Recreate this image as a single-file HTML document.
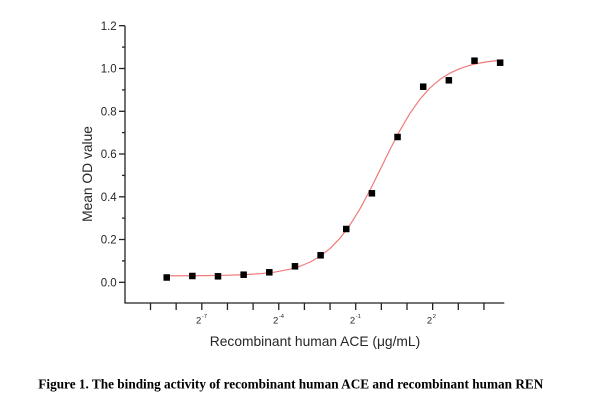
<!DOCTYPE html>
<html>
<head>
<meta charset="utf-8">
<style>
  html, body { margin: 0; padding: 0; background: #fff; }
  svg { display: block; }
  .tl { font-family: "Liberation Sans", Arial, sans-serif; fill: #262626; }
</style>
</head>
<body>
<svg width="612" height="414" viewBox="0 0 612 414" xmlns="http://www.w3.org/2000/svg">
  <rect width="612" height="414" fill="#fff"/>

  <!-- axes -->
  <g stroke="#222" stroke-width="1.3" fill="none">
    <line x1="125" y1="25.7" x2="125" y2="303.3"/>
    <line x1="124.4" y1="303" x2="504.3" y2="303"/>
    <!-- y major ticks -->
    <line x1="119" y1="25.7" x2="125" y2="25.7"/>
    <line x1="119" y1="68.5" x2="125" y2="68.5"/>
    <line x1="119" y1="111.3" x2="125" y2="111.3"/>
    <line x1="119" y1="154" x2="125" y2="154"/>
    <line x1="119" y1="196.8" x2="125" y2="196.8"/>
    <line x1="119" y1="239.5" x2="125" y2="239.5"/>
    <line x1="119" y1="282.3" x2="125" y2="282.3"/>
    <!-- y minor ticks -->
    <line x1="122" y1="47.1" x2="125" y2="47.1"/>
    <line x1="122" y1="89.9" x2="125" y2="89.9"/>
    <line x1="122" y1="132.6" x2="125" y2="132.6"/>
    <line x1="122" y1="175.4" x2="125" y2="175.4"/>
    <line x1="122" y1="218.1" x2="125" y2="218.1"/>
    <line x1="122" y1="260.9" x2="125" y2="260.9"/>
    <!-- x ticks -->
    <line x1="150.5" y1="303" x2="150.5" y2="310"/>
    <line x1="176.15" y1="303" x2="176.15" y2="310"/>
    <line x1="201.8" y1="303" x2="201.8" y2="310"/>
    <line x1="227.45" y1="303" x2="227.45" y2="310"/>
    <line x1="253.1" y1="303" x2="253.1" y2="310"/>
    <line x1="278.75" y1="303" x2="278.75" y2="310"/>
    <line x1="304.4" y1="303" x2="304.4" y2="310"/>
    <line x1="330.05" y1="303" x2="330.05" y2="310"/>
    <line x1="355.7" y1="303" x2="355.7" y2="310"/>
    <line x1="381.35" y1="303" x2="381.35" y2="310"/>
    <line x1="407" y1="303" x2="407" y2="310"/>
    <line x1="432.65" y1="303" x2="432.65" y2="310"/>
    <line x1="458.3" y1="303" x2="458.3" y2="310"/>
    <line x1="483.95" y1="303" x2="483.95" y2="310"/>
  </g>

  <!-- y tick labels -->
  <g class="tl" font-size="11.5" text-anchor="end">
    <text x="116.7" y="29.8">1.2</text>
    <text x="116.7" y="72.6">1.0</text>
    <text x="116.7" y="115.4">0.8</text>
    <text x="116.7" y="158.1">0.6</text>
    <text x="116.7" y="200.9">0.4</text>
    <text x="116.7" y="243.6">0.2</text>
    <text x="116.7" y="286.4">0.0</text>
  </g>

  <!-- x tick labels -->
  <g class="tl">
    <text x="201.3" y="323.3" font-size="9.5" text-anchor="end">2</text>
    <text x="201.9" y="318" font-size="5.8">-7</text>
    <text x="278.25" y="323.3" font-size="9.5" text-anchor="end">2</text>
    <text x="278.85" y="318" font-size="5.8">-4</text>
    <text x="355.2" y="323.3" font-size="9.5" text-anchor="end">2</text>
    <text x="355.8" y="318" font-size="5.8">-1</text>
    <text x="432.15" y="323.3" font-size="9.5" text-anchor="end">2</text>
    <text x="432.75" y="318" font-size="5.8">2</text>
  </g>

  <!-- axis titles -->
  <text class="tl" x="315" y="345.8" font-size="13.8" text-anchor="middle">Recombinant human ACE (μg/mL)</text>
  <text class="tl" transform="translate(92,174) rotate(-90)" font-size="13.8" text-anchor="middle">Mean OD value</text>

  <!-- fitted curve -->
  <polyline fill="none" stroke="#f07a7a" stroke-width="1.2" stroke-linejoin="round"
    points="165,275.83 185,275.76 205,275.61 225,275.30 245,274.63 260,273.69 275,272.04 290,269.19 300,266.25 310,262.13 320,256.39 330,248.56 340,238.21 350,224.97 360,208.81 370,190.14 380,169.93 390,149.51 400,130.27 410,113.27 420,99.16 430,87.95 440,79.42 450,73.10 460,68.54 470,65.27 480,62.97 490,61.38 503,60.01"/>

  <!-- data points -->
  <g fill="#000">
    <rect x="163.45" y="274.25" width="6.5" height="6.5"/>
    <rect x="189.1" y="272.75" width="6.5" height="6.5"/>
    <rect x="214.75" y="273.05" width="6.5" height="6.5"/>
    <rect x="240.4" y="271.45" width="6.5" height="6.5"/>
    <rect x="266.05" y="269.05" width="6.5" height="6.5"/>
    <rect x="291.7" y="263.05" width="6.5" height="6.5"/>
    <rect x="317.35" y="252.05" width="6.5" height="6.5"/>
    <rect x="343.0" y="225.75" width="6.5" height="6.5"/>
    <rect x="368.65" y="190.05" width="6.5" height="6.5"/>
    <rect x="394.3" y="133.75" width="6.5" height="6.5"/>
    <rect x="419.95" y="83.45" width="6.5" height="6.5"/>
    <rect x="445.6" y="77.05" width="6.5" height="6.5"/>
    <rect x="471.25" y="57.45" width="6.5" height="6.5"/>
    <rect x="496.9" y="59.45" width="6.5" height="6.5"/>
  </g>

  <!-- caption -->
  <text x="38.3" y="388.3" font-family="'Liberation Serif', 'Times New Roman', serif" font-weight="bold" font-size="13.4" fill="#000" textLength="505" lengthAdjust="spacingAndGlyphs">Figure 1. The binding activity of recombinant human ACE and recombinant human REN</text>
</svg>
</body>
</html>
